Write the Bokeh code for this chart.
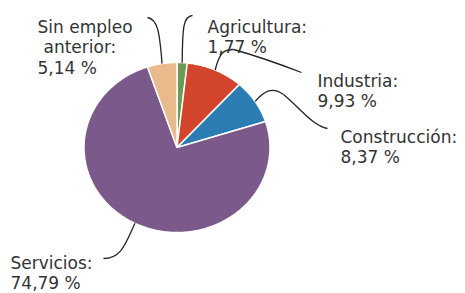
import numpy as np
from bokeh.plotting import figure
from bokeh.models import Range1d
from bokeh.core.properties import value
from bokeh.embed import file_html
from bokeh.resources import INLINE

# ---- data ----
categories = ["Agricultura", "Industria", "Construcción", "Servicios", "Sin empleo anterior"]
values = [1.77, 9.93, 8.37, 74.79, 5.14]
label_lines = [["Agricultura:"], ["Industria:"], ["Construcción:"], ["Servicios:"], ["Sin empleo", "anterior:"]]
colors = ["#6b9a56", "#d2442b", "#2b7db4", "#7b5a8b", "#e9ba8c"]

# ---- layout (pixel-like data space) ----
CX, CY, RX, RY = 176.5, 147.0, 93.0, 85.0
LINE_STEP = 20.5
label_x = [[207, 207], [317, 317], [340, 340], [10, 10], [37, 43, 37]]
label_y0 = [26, 80, 136, 262, 26]

p = figure(width=465, height=293, output_backend="svg", toolbar_location=None,
           x_range=Range1d(0, 465), y_range=Range1d(293, 0),
           x_axis_type=None, y_axis_type=None, min_border=0,
           outline_line_color=None, background_fill_color="white")
p.grid.visible = False

vals = np.array(values, dtype=float)
fr = vals / vals.sum()
ends = np.cumsum(fr) * 2 * np.pi
starts = ends - fr * 2 * np.pi
mids = (starts + ends) / 2

xs, ys = [], []
for a0, a1 in zip(starts, ends):
    t = np.linspace(a0, a1, max(4, int((a1 - a0) * 60)))
    xs.append([CX] + list(CX + RX * np.sin(t)) + [CX])
    ys.append([CY] + list(CY - RY * np.cos(t)) + [CY])
p.patches(xs=xs, ys=ys, fill_color=colors, line_color="white", line_width=1.5)

# leader lines from slice mid-angle on the rim
ex = CX + RX * np.sin(mids)
ey = CY - RY * np.cos(mids)
ctrl = [
    [((182, 25), (183, 16), (192, 15))],
    [((219, 52), (223, 49), (233, 49)), ((233, 49), (262, 57), (301, 72))],
    [((264, 90), (272, 86), (283, 94)), ((300, 108), (312, 125), (327, 128))],
    [((125, 243), (121, 258), (103, 258))],
    [((159, 30), (157, 19), (147, 17))],
]
bx0, by0, bx1, by1, bc0x, bc0y, bc1x, bc1y = [], [], [], [], [], [], [], []
for i, segs in enumerate(ctrl):
    sx, sy = ex[i], ey[i]
    for (c0, c1, e) in segs:
        bx0.append(sx); by0.append(sy)
        bc0x.append(c0[0]); bc0y.append(c0[1])
        bc1x.append(c1[0]); bc1y.append(c1[1])
        bx1.append(e[0]); by1.append(e[1])
        sx, sy = e
p.bezier(x0=bx0, y0=by0, x1=bx1, y1=by1, cx0=bc0x, cy0=bc0y, cx1=bc1x, cy1=bc1y,
         line_color="#222222", line_width=1.3)

# labels
tx, ty, tt = [], [], []
for i, lines in enumerate(label_lines):
    pct = f"{values[i]:.2f}".replace(".", ",") + " %"
    for j, s in enumerate(lines + [pct]):
        tx.append(label_x[i][j])
        ty.append(label_y0[i] + j * LINE_STEP)
        tt.append(s)
p.text(x=tx, y=ty, text=tt, text_font=value("DejaVu Sans"), text_font_size="17px",
       text_color="#333333", text_align="left", text_baseline="alphabetic")

open("out.html", "w").write(file_html(p, INLINE))
